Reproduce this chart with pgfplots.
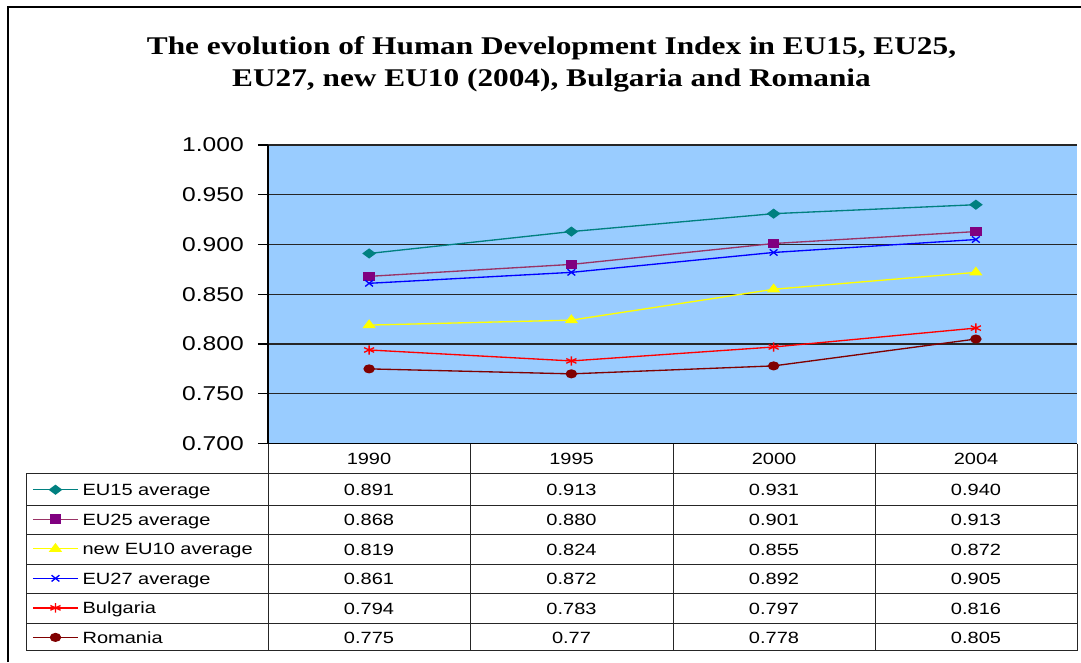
\documentclass[border=0pt]{standalone}
\usepackage{pgfplots}
\pgfplotsset{compat=1.18}
\usepackage{fontspec}
\setmainfont{Liberation Sans}[FakeStretch=1.23]
\newfontfamily\titlefont{Liberation Serif}[FakeStretch=1.23]
\definecolor{bgblue}{HTML}{99CCFF}
\definecolor{cEUxv}{HTML}{008080}
\definecolor{cEUxxv}{HTML}{993366}
\definecolor{cEUxxvm}{HTML}{800080}
\definecolor{cEUx}{HTML}{FFFF00}
\definecolor{cEUxxvii}{HTML}{0000FF}
\definecolor{cBG}{HTML}{FF0000}
\definecolor{cRO}{HTML}{800000}
\begin{document}
\begin{tikzpicture}
\path[use as bounding box] (0,0) rectangle (810.75pt,496.5pt);
\begin{axis}[
  at={(201pt,163.875pt)}, anchor=south west, scale only axis,
  width=606.75pt, height=223.875pt,
  xmin=-0.5, xmax=3.5, ymin=0.7, ymax=1.0,
  xtick=\empty,
  ytick={0.7,0.75,0.8,0.85,0.9,0.95,1.0},
  axis y line*=left, axis x line*=bottom,
  axis line style={black, line width=0.9pt, -},
  axis background/.style={fill=bgblue},
  ymajorgrids, major grid style={black!85, line width=0.9pt},
  tick align=outside, major tick length=7.5pt,
  ytick style={black, line width=0.9pt},
  yticklabel style={font=\fontsize{15}{18}\selectfont, inner xsep=0pt, xshift=-10.5pt,
    /pgf/number format/.cd, fixed, fixed zerofill, precision=3, assume math mode=true},
  clip=false,
  legend cell align=left,
  legend style={at={(-0.2917,-0.1045)}, anchor=north west, draw=none, fill=none,
    inner sep=0pt, row sep=0pt, font=\fontsize{12.2}{14}\selectfont,
    nodes={inner ysep=0pt, inner xsep=3pt, text height=15.475pt, text depth=6.675pt}},
  legend image code/.code={\draw[mark repeat=2,mark phase=2] plot coordinates {(0pt,0pt)(16.9pt,0pt)(33.75pt,0pt)};},
]
\addplot[color=cEUxv, line width=1pt, mark=diamond*, mark size=3.2pt, mark options={xscale=1.8, fill=cEUxv, draw=cEUxv}]
  coordinates {(0,0.891)(1,0.913)(2,0.931)(3,0.940)};
\addlegendentry{EU15 average}
\addplot[color=cEUxxv, line width=1pt, mark=square*, mark size=3.1pt, mark options={xscale=1.2, fill=cEUxxvm, draw=cEUxxvm}]
  coordinates {(0,0.868)(1,0.880)(2,0.901)(3,0.913)};
\addlegendentry{EU25 average}
\addplot[color=cEUx, line width=1pt, mark=triangle*, mark size=3.6pt, mark options={xscale=1.3, fill=cEUx, draw=cEUx}]
  coordinates {(0,0.819)(1,0.824)(2,0.855)(3,0.872)};
\addlegendentry{new EU10 average}
\addplot[color=cEUxxvii, line width=1pt, mark=x, mark size=3.3pt, mark options={xscale=1.25, line width=1pt}]
  coordinates {(0,0.861)(1,0.872)(2,0.892)(3,0.905)};
\addlegendentry{EU27 average}
\addplot[color=cBG, line width=1pt, mark=asterisk, mark size=3.5pt, mark options={xscale=1.25, line width=1pt}]
  coordinates {(0,0.794)(1,0.783)(2,0.797)(3,0.816)};
\addlegendentry{Bulgaria}
\addplot[color=cRO, line width=1pt, mark=*, mark size=2.9pt, mark options={xscale=1.3, fill=cRO, draw=cRO}]
  coordinates {(0,0.775)(1,0.770)(2,0.778)(3,0.805)};
\addlegendentry{Romania}
\end{axis}
\begin{scope}[x=0.75pt, y=-0.75pt, yshift=496.5pt]
  % outer frame
  \draw[line width=1.5pt] (8.3,662) -- (8.3,6.7) -- (1081,6.7);
  % title
  \node[anchor=base, font=\titlefont\bfseries\fontsize{19.1}{22}\selectfont] at (551.5,54.3) {The evolution of Human Development Index in EU15, EU25,};
  \node[anchor=base, font=\titlefont\bfseries\fontsize{19.1}{22}\selectfont] at (551.5,86.7) {EU27, new EU10 (2004), Bulgaria and Romania};
  % data table grid
  \begin{scope}[black!85, line width=0.75pt]
    \foreach \yy in {473.5,505,534.5,564.5,593.5,623,650.7} \draw (26,\yy) -- (1077,\yy);
    \draw (26,473.5) -- (26,650.7);
    \foreach \xx in {268,470,673,875.7,1077} \draw (\xx,443.5) -- (\xx,650.7);
  \end{scope}
  \begin{scope}[every node/.style={anchor=base, inner sep=0pt, font=\fontsize{12.2}{14}\selectfont}]
    % header
    \node at (369,464.3) {1990};
    \node at (571.5,464.3) {1995};
    \node at (774,464.3) {2000};
    \node at (976,464.3) {2004};
    % EU15
    \node at (369,495.1) {0.891}; \node at (571.5,495.1) {0.913}; \node at (774,495.1) {0.931}; \node at (976,495.1) {0.940};
    % EU25
    \node at (369,525.6) {0.868}; \node at (571.5,525.6) {0.880}; \node at (774,525.6) {0.901}; \node at (976,525.6) {0.913};
    % new EU10
    \node at (369,555.3) {0.819}; \node at (571.5,555.3) {0.824}; \node at (774,555.3) {0.855}; \node at (976,555.3) {0.872};
    % EU27
    \node at (369,584.9) {0.861}; \node at (571.5,584.9) {0.872}; \node at (774,584.9) {0.892}; \node at (976,584.9) {0.905};
    % Bulgaria
    \node at (369,614.2) {0.794}; \node at (571.5,614.2) {0.783}; \node at (774,614.2) {0.797}; \node at (976,614.2) {0.816};
    % Romania
    \node at (369,643.2) {0.775}; \node at (571.5,643.2) {0.77}; \node at (774,643.2) {0.778}; \node at (976,643.2) {0.805};
  \end{scope}
\end{scope}
\end{tikzpicture}
\end{document}
